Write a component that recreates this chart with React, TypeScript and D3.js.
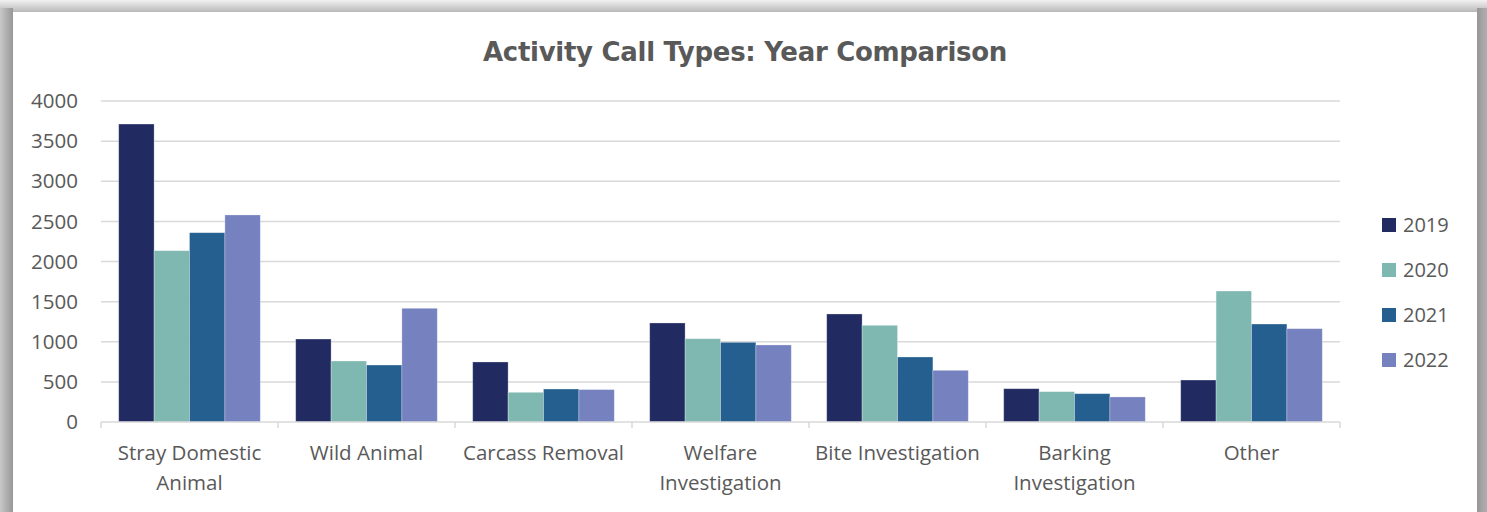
import React from "react";
import * as d3 from "d3";

const categories = [
  ["Stray Domestic", "Animal"],
  ["Wild Animal"],
  ["Carcass Removal"],
  ["Welfare", "Investigation"],
  ["Bite Investigation"],
  ["Barking", "Investigation"],
  ["Other"],
];
const years = ["2019", "2020", "2021", "2022"];
const v2019 = [3713, 1034, 748, 1234, 1346, 415, 523];
const v2020 = [2135, 760, 370, 1038, 1205, 378, 1632];
const v2021 = [2359, 710, 411, 993, 810, 353, 1221];
const v2022 = [2580, 1417, 404, 960, 644, 312, 1163];
const series = [v2019, v2020, v2021, v2022];
const colors = ["#212b62", "#7fb8b1", "#255f8f", "#7681bf"];
const yTicks = [0, 500, 1000, 1500, 2000, 2500, 3000, 3500, 4000];

export default function App() {
  const W = 1487, H = 512;
  const left = 101, right = 1340, top = 101, bottom = 422;
  const x0 = d3.scaleBand<number>().domain(d3.range(categories.length)).range([left, right]).paddingInner(0).paddingOuter(0);
  const x1 = d3.scaleBand<number>().domain(d3.range(years.length)).range([0, x0.bandwidth()]).paddingOuter(0.5).paddingInner(0);
  const y = d3.scaleLinear().domain([0, 4000]).range([bottom, top]);
  const txt = "#595959";
  const font = "'Open Sans', sans-serif";
  return (
    <svg width={W} height={H} style={{ position: "absolute", left: 0, top: 0 }} fontFamily={font}>
      <defs>
        <linearGradient id="topg" x1="0" y1="0" x2="0" y2="1">
          <stop offset="0" stopColor="#f2f2f2" />
          <stop offset="1" stopColor="#b8b8b8" />
        </linearGradient>
        <linearGradient id="leftg" x1="0" y1="0" x2="1" y2="0">
          <stop offset="0" stopColor="#c8c8c8" />
          <stop offset="1" stopColor="#979797" />
        </linearGradient>
        <linearGradient id="rightg" x1="0" y1="0" x2="1" y2="0">
          <stop offset="0" stopColor="#979797" />
          <stop offset="1" stopColor="#b0b0b0" />
        </linearGradient>
      </defs>
      <rect x={0} y={0} width={W} height={H} fill="#ffffff" />
      <rect x={0} y={0} width={W} height={12} fill="url(#topg)" />
      <rect x={0} y={8} width={13} height={H} fill="url(#leftg)" />
      <rect x={1477} y={8} width={10} height={H} fill="url(#rightg)" />
      <rect x={13} y={12} width={1464} height={H} fill="#ffffff" />
      <text x={745} y={61} textAnchor="middle" fontSize={26} fontWeight="bold" fill={txt} fontFamily="'DejaVu Sans', sans-serif" letterSpacing={-0.3}>
        Activity Call Types: Year Comparison
      </text>
      {yTicks.map((t) => (
        <g key={t}>
          {t > 0 && <line x1={left} x2={right} y1={y(t)} y2={y(t)} stroke="#d9d9d9" strokeWidth={1.5} />}
          <text x={78} y={y(t)} dy="0.35em" textAnchor="end" fontSize={20.5} fill={txt}>{t}</text>
        </g>
      ))}
      {categories.map((c, i) => (
        <g key={i} transform={`translate(${x0(i)},0)`}>
          {series.map((s, j) => (
            <rect key={j} x={x1(j)} y={y(s[i])} width={x1.bandwidth()} height={y(0) - y(s[i])} fill={colors[j]} stroke="#ffffff" strokeOpacity={0.35} strokeWidth={0.8} />
          ))}
        </g>
      ))}
      <line x1={left} x2={right} y1={bottom} y2={bottom} stroke="#d9d9d9" strokeWidth={1.5} />
      {d3.range(categories.length + 1).map((i) => {
        const xx = i < categories.length ? (x0(i) as number) : right;
        return <line key={i} x1={xx} x2={xx} y1={bottom} y2={bottom + 6} stroke="#d9d9d9" strokeWidth={1.5} />;
      })}
      {categories.map((c, i) => (
        <text key={i} x={(x0(i) as number) + x0.bandwidth() / 2} y={460} textAnchor="middle" fontSize={20.5} fill={txt}>
          {c.map((line, k) => (
            <tspan key={k} x={(x0(i) as number) + x0.bandwidth() / 2} dy={k === 0 ? 0 : 30}>{line}</tspan>
          ))}
        </text>
      ))}
      {years.map((yr, j) => (
        <g key={yr} transform={`translate(1382,${225 + j * 45})`}>
          <rect x={0} y={-7} width={14} height={14} fill={colors[j]} />
          <text x={21} y={0} dy="0.35em" fontSize={20} fill={txt}>{yr}</text>
        </g>
      ))}
    </svg>
  );
}
